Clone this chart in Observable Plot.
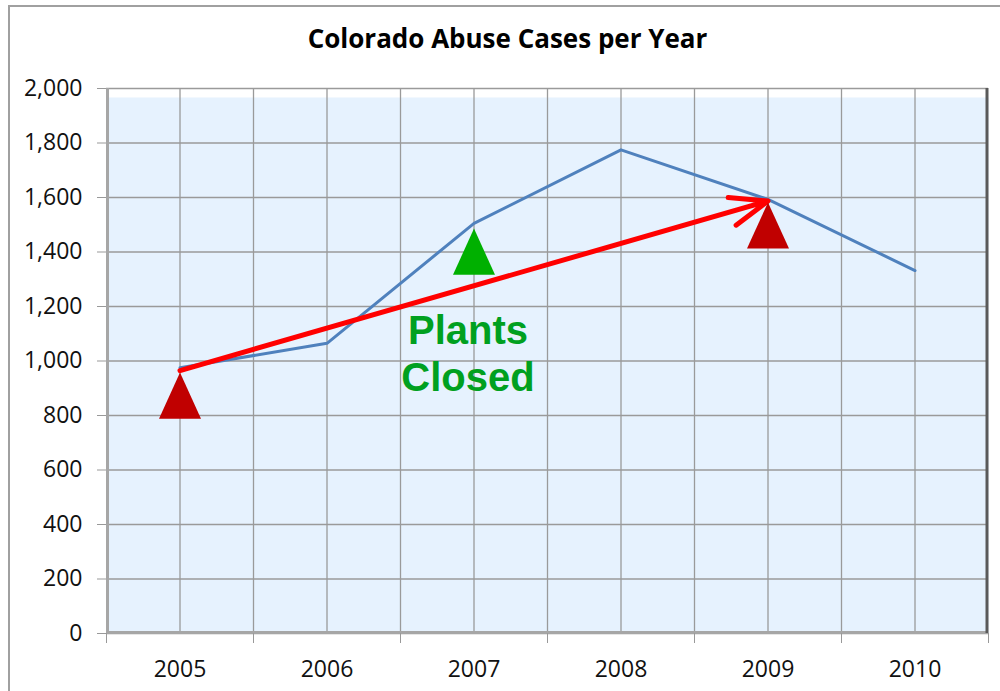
<!DOCTYPE html>
<html>
<head>
<meta charset="utf-8">
<script src="https://cdn.jsdelivr.net/npm/d3@7"></script>
<script src="https://cdn.jsdelivr.net/npm/@observablehq/plot@0.6"></script>
<style>
  html, body { margin: 0; padding: 0; background: #fff; overflow: hidden; }
  #wrap { position: relative; width: 1000px; height: 691px; }
  #border { position: absolute; left: 8px; top: 5px; width: 1200px; height: 900px; border: 2px solid #a0a0a0; box-sizing: border-box; }
  #chart { position: absolute; left: 0; top: 0; }
</style>
</head>
<body>
<div id="wrap"><div id="border"></div><div id="chart"></div></div>
<script>
// ---- data ----
const title = "Colorado Abuse Cases per Year";
const years = [2005, 2006, 2007, 2008, 2009, 2010];
const cases = [975, 1065, 1505, 1775, 1593, 1332];
const yTicks = [0, 200, 400, 600, 800, 1000, 1200, 1400, 1600, 1800, 2000];
const xBoundaries = [2004.5, 2005.5, 2006.5, 2007.5, 2008.5, 2009.5, 2010.5];
const xGrid = [2005, 2005.5, 2006, 2006.5, 2007, 2007.5, 2008, 2008.5, 2009, 2009.5, 2010];
const trendYears = [2005, 2009];
const trendValues = [965, 1587];
const markerYears = [2005, 2007, 2009];
const markerValues = [958, 1486, 1582];
const markerColors = ["#C00000", "#00B000", "#C00000"];
const noteText = ["Plants\nClosed"];
const noteYear = [2007];
const noteValue = [1030];

const series = years.map((y, i) => ({year: y, value: cases[i]}));
const trend = [{x1: trendYears[0], y1: trendValues[0], x2: trendYears[1], y2: trendValues[1]}];
const markers = markerYears.map((y, i) => ({year: y, value: markerValues[i], color: markerColors[i]}));
const notes = noteText.map((t, i) => ({text: t, year: noteYear[i], value: noteValue[i]}));

// isosceles triangle with apex at the data point
const apexTriangle = {
  draw(ctx, size) {
    const r = Math.sqrt(size / Math.PI);
    ctx.moveTo(0, 0);
    ctx.lineTo(r, 2.2 * r);
    ctx.lineTo(-r, 2.2 * r);
    ctx.closePath();
  }
};

const chart = Plot.plot({
  width: 1000,
  height: 691,
  marginLeft: 106,
  marginRight: 12,
  marginTop: 88,
  marginBottom: 58,
  style: {fontFamily: "'Open Sans', sans-serif", fontSize: "23px", color: "#111", background: "transparent"},
  x: {type: "linear", domain: [2004.5, 2010.5]},
  y: {domain: [0, 2000]},
  marks: [
    Plot.frame({fill: "#e6f2fe", stroke: null, insetTop: 9}),
    Plot.gridY(yTicks, {stroke: "#9a9a9a", strokeOpacity: 1, strokeWidth: 1.3}),
    Plot.gridX(xGrid, {stroke: "#9a9a9a", strokeOpacity: 1, strokeWidth: 1.3}),
    Plot.ruleX([2004.5], {stroke: "#a6a6a6", strokeWidth: 3, dx: 1}),
    Plot.ruleY([0], {stroke: "#a6a6a6", strokeWidth: 3, dy: -1}),
    Plot.ruleX([2010.5], {stroke: "#5a5a5a", strokeWidth: 3, dx: -1.5}),
    Plot.axisY({ticks: yTicks, tickFormat: d3.format(","), tickSize: 9, tickPadding: 15, stroke: "#999", label: null}),
    Plot.axisX({ticks: xBoundaries, tickFormat: () => "", tickSize: 10, stroke: "#999", label: null}),
    Plot.axisX({ticks: years, tickFormat: d => String(d), tickSize: 0, tickPadding: 27, label: null}),
    Plot.line(series, {x: "year", y: "value", stroke: "#4F81BD", strokeWidth: 3}),
    Plot.arrow(trend, {x1: "x1", y1: "y1", x2: "x2", y2: "y2", stroke: "#FF0000", strokeWidth: 5, headLength: 12, headAngle: 42}),
    Plot.dot(markers, {x: "year", y: "value", fill: "color", stroke: null, r: 21, symbol: apexTriangle}),
    Plot.text(notes, {x: "year", y: "value", text: "text", fill: "#00A020", fontSize: 40, fontWeight: "bold", fontFamily: "'Liberation Sans', Arial, sans-serif", lineHeight: 1.17, lineAnchor: "middle", dx: -6}),
    Plot.text([title], {frameAnchor: "top", text: d => d, dx: -40, dy: -59, fontSize: 26, fontWeight: "bold", fill: "#000", lineAnchor: "top"})
  ]
});
document.getElementById("chart").appendChild(chart);
</script>
</body>
</html>
